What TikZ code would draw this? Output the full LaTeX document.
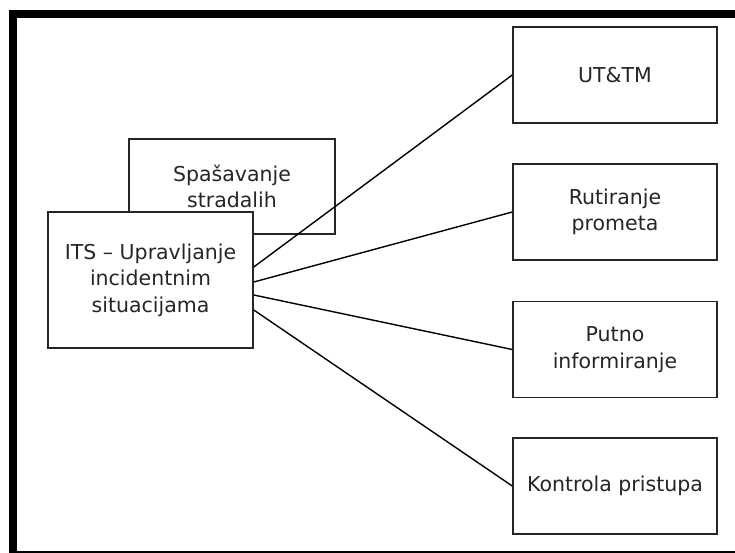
\documentclass[tikz,border=0pt]{standalone}
\usepackage{fontspec}
\setmainfont{DejaVu Sans}
\usetikzlibrary{calc}
\begin{document}
\begin{tikzpicture}[x=1pt,y=-1pt,
  box/.style={draw=black!85, line width=1.5pt, fill=white, inner sep=0pt,
    align=center, text=black!85,
    font=\fontsize{20.5}{26.5}\selectfont},
  link/.style={draw=black, line width=1.4pt}]
  \useasboundingbox (0,0) rectangle (735,553);
  % page frame: heavy top and left rules, thin bottom rule
  \fill (9.3,10.5) rectangle (735,18.3);
  \fill (9.3,10.5) rectangle (16.7,553);
  \fill (9.3,550.5) rectangle (735,553);

  % left group
  \node[box, minimum width=206pt, minimum height=95pt] (rescue) at (232,186.5)
    {Spašavanje\\stradalih};
  \node[box, minimum width=205pt, minimum height=136pt] (its) at (150.5,280)
    {ITS – Upravljanje\\incidentnim\\situacijama};

  % right column
  \node[box, minimum width=204pt, minimum height=96pt] (uttm) at (615,75) {UT\&TM};
  \node[box, minimum width=204pt, minimum height=96pt] (rout) at (615,212) {Rutiranje\\prometa};
  \node[box, minimum width=204pt, minimum height=96pt] (info) at (615,349.5) {Putno\\informiranje};
  \node[box, minimum width=204pt, minimum height=96pt] (acc) at (615,486) {Kontrola pristupa};

  % connectors
  \draw[link] ($(its.east)+(0,-13)$) -- (uttm.west);
  \draw[link] ($(its.east)+(0,2)$) -- (rout.west);
  \draw[link] ($(its.east)+(0,15)$) -- (info.west);
  \draw[link] ($(its.east)+(0,30)$) -- (acc.west);
\end{tikzpicture}
\end{document}
